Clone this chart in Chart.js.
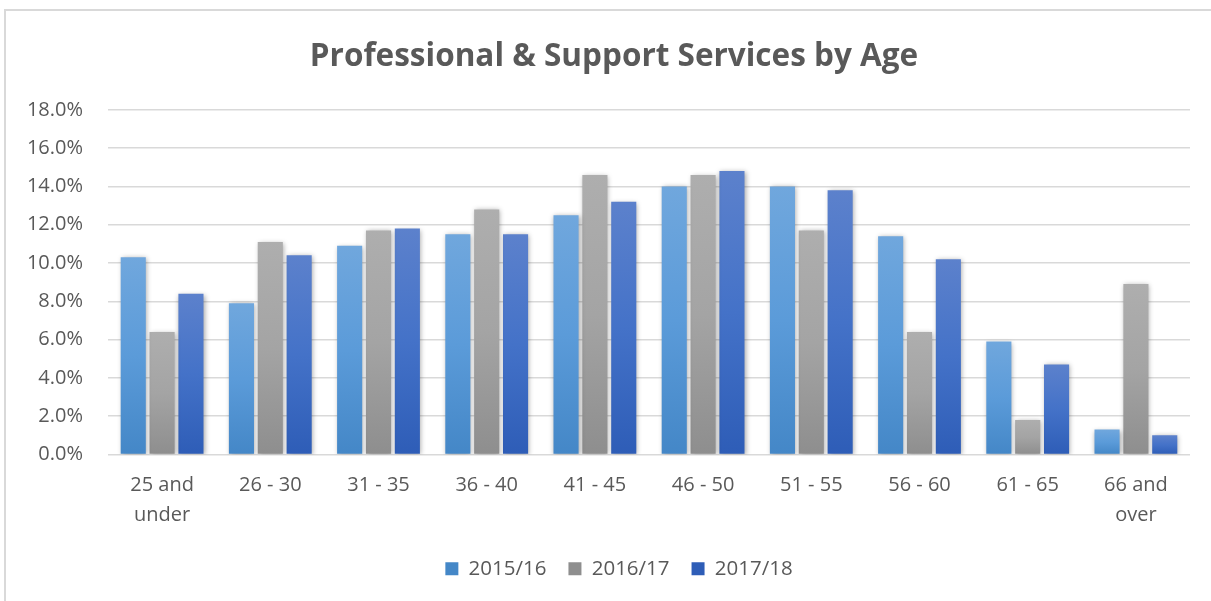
<!DOCTYPE html>
<html>
<head>
<meta charset="utf-8">
<script src="https://cdn.jsdelivr.net/npm/chart.js@4/dist/chart.umd.min.js"></script>
<style>
  html, body { margin:0; padding:0; background:#fff; }
  #wrap { position:absolute; left:0; top:0; width:1211px; height:601px; }
</style>
</head>
<body>
<div id="wrap"><canvas id="ageChart" width="1211" height="601"></canvas></div>
<script>
// age bands (two-line labels where Excel wrapped them)
var ageBands = [['25 and','under'],'26 - 30','31 - 35','36 - 40','41 - 45','46 - 50','51 - 55','56 - 60','61 - 65',['66 and','over']];
var years = ['2015/16','2016/17','2017/18'];
var share1516 = [10.3, 7.9, 10.9, 11.5, 12.5, 14.0, 14.0, 11.4, 5.9, 1.3];
var share1617 = [6.4, 11.1, 11.7, 12.8, 14.6, 14.6, 11.7, 6.4, 1.8, 8.9];
var share1718 = [8.4, 10.4, 11.8, 11.5, 13.2, 14.8, 13.8, 10.2, 4.7, 1.0];

var textCol = '#595959';
var fontFam = '"Open Sans", "Liberation Sans", sans-serif';

// top, bottom colours of each bar's gradient
var shades = [
  { solid:'#5B9BD5', top:'#70A7DD', mid:'#5B9BD9', bot:'#4487C7' },
  { solid:'#A5A5A5', top:'#AEAEAE', mid:'#A4A4A4', bot:'#8E8E8E' },
  { solid:'#4472C4', top:'#5C81CC', mid:'#4472C8', bot:'#2E5DB7' }
];

function barFill(shade){
  return function(c){
    if(c.type !== 'data') return shade.solid;
    var ys = c.chart.scales.y;
    if(!ys) return shade.solid;
    var top = ys.getPixelForValue(c.raw), base = ys.getPixelForValue(0);
    if(!isFinite(top) || !isFinite(base) || base - top < 1) return shade.solid;
    var g = c.chart.ctx.createLinearGradient(0, top, 0, base);
    g.addColorStop(0, shade.top);
    g.addColorStop(0.5, shade.mid);
    g.addColorStop(1, shade.bot);
    return g;
  };
}

var frame = {
  id:'frame',
  beforeDraw:function(chart){
    var ctx = chart.ctx;
    ctx.save();
    ctx.strokeStyle = '#D9D9D9';
    ctx.lineWidth = 2;
    ctx.strokeRect(5, 10, 1300, 700);
    ctx.restore();
  }
};
var shadow = {
  id:'barShadow',
  beforeDatasetsDraw:function(chart){
    var ctx = chart.ctx;
    ctx.save();
    ctx.shadowColor = 'rgba(0,0,0,0.35)';
    ctx.shadowBlur = 5;
    ctx.shadowOffsetX = 1;
    ctx.shadowOffsetY = 1;
  },
  afterDatasetsDraw:function(chart){ chart.ctx.restore(); }
};
// Excel centres title/legend on the whole frame, not the plot; nudge them right
var nudge = {
  id:'nudge',
  afterLayout:function(chart){
    var t = chart.titleBlock, l = chart.legend;
    if(t){ t.left += 19; t.right += 19; }
    if(l){ l.left += 24; l.right += 24; }
  }
};

var seriesVals = [share1516, share1617, share1718];
var datasets = years.map(function(y, i){
  return { label:y, data:seriesVals[i], backgroundColor:barFill(shades[i]), borderWidth:0,
           categoryPercentage:0.8, barPercentage:0.87 };
});

new Chart(document.getElementById('ageChart'), {
  type:'bar',
  data:{ labels:ageBands, datasets:datasets },
  plugins:[frame, shadow, nudge],
  options:{
    responsive:false,
    animation:false,
    layout:{ padding:{ left:0, right:21, top:0, bottom:12 } },
    plugins:{
      title:{ display:true, text:'Professional & Support Services by Age', color:textCol,
              font:{ family:fontFam, size:31.5, weight:'bold', lineHeight:1.2 },
              padding:{ top:38, bottom:34 } },
      legend:{ position:'bottom',
               labels:{ color:textCol, font:{ family:fontFam, size:20.5 }, boxWidth:13, boxHeight:13, padding:22 } },
      tooltip:{ enabled:false }
    },
    scales:{
      x:{
        grid:{ display:false, drawTicks:false },
        border:{ display:false },
        ticks:{ color:textCol, font:{ family:fontFam, size:20, lineHeight:1.5 }, padding:16, maxRotation:0, autoSkip:false },
        afterFit:function(s){ s.height = 82; }
      },
      y:{
        min:0, max:18,
        grid:{ color:'#D9D9D9', lineWidth:1.5, drawTicks:false },
        border:{ display:false },
        ticks:{ stepSize:2, color:textCol, font:{ family:fontFam, size:20 }, padding:25,
                callback:function(v){ return v.toFixed(1) + '%'; } },
        afterFit:function(s){ s.width = 108; }
      }
    }
  }
});
</script>
</body>
</html>
